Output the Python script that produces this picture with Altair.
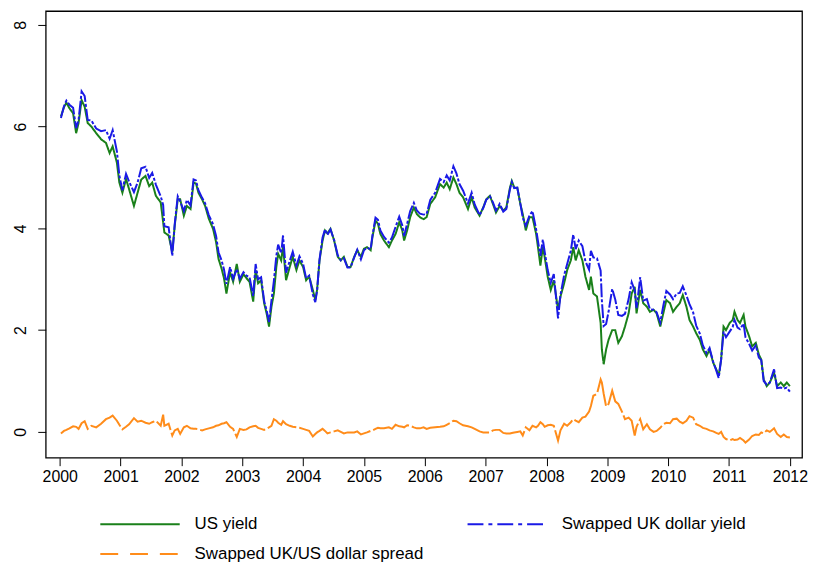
import altair as alt
import pandas as pd

# Dates as fractional years
dates = [
    2000.02, 2000.07, 2000.11, 2000.16, 2000.22, 2000.27, 2000.31, 2000.36, 2000.41, 2000.46,
    2000.52, 2000.60, 2000.68, 2000.76, 2000.82, 2000.87, 2000.94, 2000.98, 2001.03, 2001.09,
    2001.14, 2001.22, 2001.28, 2001.34, 2001.41, 2001.47, 2001.52, 2001.58, 2001.66, 2001.70,
    2001.72, 2001.79, 2001.85, 2001.89, 2001.94, 2001.98, 2002.04, 2002.09, 2002.15, 2002.20,
    2002.24, 2002.28, 2002.34, 2002.39, 2002.45, 2002.52, 2002.57, 2002.61, 2002.66, 2002.70,
    2002.74, 2002.80, 2002.85, 2002.91, 2002.96, 2003.02, 2003.07, 2003.12, 2003.18, 2003.22,
    2003.26, 2003.31, 2003.36, 2003.40, 2003.44, 2003.48, 2003.52, 2003.56, 2003.59, 2003.64,
    2003.67, 2003.72, 2003.78, 2003.83, 2003.89, 2003.94, 2004.00, 2004.05, 2004.10, 2004.16,
    2004.20, 2004.23, 2004.27, 2004.32, 2004.36, 2004.40, 2004.45, 2004.51, 2004.57, 2004.62,
    2004.67, 2004.73, 2004.78, 2004.84, 2004.89, 2004.95, 2005.00, 2005.05, 2005.11, 2005.14,
    2005.19, 2005.23, 2005.27, 2005.33, 2005.41, 2005.46, 2005.52, 2005.58, 2005.63, 2005.66,
    2005.71, 2005.76, 2005.82, 2005.87, 2005.92, 2005.98, 2006.03, 2006.09, 2006.17, 2006.25,
    2006.31, 2006.36, 2006.41, 2006.47, 2006.52, 2006.57, 2006.63, 2006.71, 2006.77, 2006.82,
    2006.90, 2006.96, 2007.01, 2007.07, 2007.12, 2007.17, 2007.23, 2007.29, 2007.34, 2007.40,
    2007.43, 2007.47, 2007.52, 2007.57, 2007.61, 2007.66, 2007.72, 2007.77, 2007.83, 2007.86,
    2007.90, 2007.94, 2007.97, 2008.02, 2008.07, 2008.12, 2008.19, 2008.23, 2008.29, 2008.34,
    2008.40, 2008.44, 2008.48, 2008.53, 2008.59, 2008.64, 2008.70, 2008.73, 2008.77, 2008.83,
    2008.89, 2008.91, 2008.94, 2008.98, 2009.02, 2009.08, 2009.13, 2009.18, 2009.24, 2009.29,
    2009.35, 2009.40, 2009.45, 2009.48, 2009.54, 2009.59, 2009.65, 2009.70, 2009.76, 2009.81,
    2009.87, 2009.92, 2009.97, 2010.03, 2010.08, 2010.14, 2010.19, 2010.24, 2010.30, 2010.35,
    2010.41, 2010.46, 2010.52, 2010.57, 2010.63, 2010.68, 2010.74, 2010.79, 2010.83, 2010.87,
    2010.91, 2010.95, 2011.01, 2011.06, 2011.09, 2011.14, 2011.18, 2011.24, 2011.27, 2011.33,
    2011.38, 2011.44, 2011.49, 2011.53, 2011.57, 2011.62, 2011.67, 2011.74, 2011.79, 2011.85,
    2011.90, 2011.95, 2012.00,
]

us_yield = [
    6.20, 6.38, 6.47, 6.36, 6.26, 5.87, 6.07, 6.52, 6.39, 6.07,
    6.00, 5.87, 5.75, 5.68, 5.48, 5.61, 5.29, 4.90, 4.70, 4.97,
    4.77, 4.44, 4.70, 4.96, 5.03, 4.83, 4.90, 4.64, 4.51, 4.12,
    3.92, 3.86, 3.53, 4.05, 4.57, 4.57, 4.25, 4.44, 4.38, 4.90,
    4.88, 4.70, 4.57, 4.44, 4.19, 3.99, 3.73, 3.40, 3.21, 3.02,
    2.72, 3.14, 2.95, 3.30, 2.95, 3.10, 3.02, 2.95, 2.56, 3.18,
    2.92, 2.98, 2.53, 2.33, 2.07, 2.46, 2.72, 3.24, 3.50, 3.37,
    3.65, 2.98, 3.24, 3.44, 3.18, 3.37, 3.24, 2.98, 3.05, 2.79,
    2.59, 2.79, 3.37, 3.76, 3.96, 3.90, 3.99, 3.76, 3.44, 3.37,
    3.44, 3.24, 3.24, 3.44, 3.57, 3.44, 3.60, 3.63, 3.57, 3.83,
    4.15, 4.09, 3.89, 3.76, 3.63, 3.76, 3.89, 4.12, 3.96, 3.76,
    3.96, 4.22, 4.41, 4.28, 4.22, 4.18, 4.22, 4.48, 4.61, 4.87,
    4.80, 4.90, 4.77, 5.00, 4.87, 4.70, 4.61, 4.38, 4.61, 4.41,
    4.25, 4.41, 4.57, 4.64, 4.48, 4.31, 4.44, 4.35, 4.41, 4.80,
    4.93, 4.80, 4.80, 4.48, 4.28, 3.96, 4.22, 4.22, 3.89, 3.63,
    3.27, 3.63, 3.44, 3.05, 2.79, 2.98, 2.40, 2.66, 2.92, 3.18,
    3.37, 3.63, 3.37, 3.57, 3.37, 3.05, 2.79, 3.05, 2.72, 2.66,
    2.14, 1.62, 1.33, 1.62, 1.81, 2.00, 2.00, 1.75, 1.88, 2.07,
    2.33, 2.72, 2.85, 2.33, 2.79, 2.53, 2.46, 2.36, 2.40, 2.33,
    2.07, 2.33, 2.59, 2.53, 2.36, 2.46, 2.53, 2.69, 2.46, 2.20,
    2.07, 1.94, 1.81, 1.62, 1.49, 1.62, 1.36, 1.23, 1.10, 1.42,
    2.07, 2.00, 2.14, 2.20, 2.36, 2.20, 2.14, 2.30, 2.07, 1.88,
    1.68, 1.75, 1.52, 1.42, 1.03, 0.90, 0.97, 1.16, 0.90, 0.97,
    0.90, 0.97, 0.90,
]

spread = [
    -0.03, 0.02, 0.04, 0.07, 0.11, 0.10, 0.06, 0.17, 0.21, 0.06,
    0.12, 0.09, 0.16, 0.25, 0.28, 0.32, 0.22, 0.14, 0.05, 0.10,
    0.15, 0.27, 0.20, 0.22, 0.18, 0.16, 0.19, 0.22, 0.12, 0.34,
    0.12, 0.16, -0.07, 0.03, 0.06, -0.04, 0.09, 0.12, 0.07, 0.06,
    0.06, 0.05, 0.03, 0.05, 0.07, 0.09, 0.12, 0.13, 0.16, 0.17,
    0.19, 0.10, 0.06, -0.10, 0.06, 0.04, 0.05, 0.09, 0.11, 0.12,
    0.08, 0.06, 0.04, 0.06, 0.09, 0.12, 0.25, 0.22, 0.18, 0.14,
    0.21, 0.15, 0.12, 0.10, 0.09, 0.08, 0.06, 0.04, 0.02, -0.09,
    -0.04, -0.01, 0.02, 0.06, 0.02, -0.03, -0.01, 0.01, 0.03, 0.00,
    -0.03, -0.01, -0.01, -0.01, 0.01, -0.05, -0.03, -0.01, 0.02, 0.03,
    0.06, 0.08, 0.07, 0.07, 0.09, 0.06, 0.14, 0.11, 0.10, 0.09,
    0.13, 0.12, 0.09, 0.07, 0.07, 0.09, 0.06, 0.08, 0.09, 0.10,
    0.11, 0.14, 0.17, 0.22, 0.21, 0.17, 0.13, 0.11, 0.09, 0.06,
    0.01, -0.01, -0.01, -0.01, 0.03, 0.04, 0.04, -0.02, -0.03, -0.03,
    -0.02, -0.01, 0.00, 0.01, -0.07, 0.09, 0.03, 0.12, 0.09, 0.12,
    0.19, 0.15, 0.10, 0.13, 0.14, 0.12, -0.17, 0.03, 0.16, 0.12,
    0.19, 0.25, 0.22, 0.19, 0.28, 0.30, 0.40, 0.51, 0.71, 0.75,
    1.03, 0.97, 0.75, 0.50, 0.55, 0.81, 0.60, 0.55, 0.40, 0.25,
    0.28, 0.22, -0.07, 0.10, 0.25, 0.05, 0.15, 0.05, 0.00, 0.02,
    0.08, 0.15, 0.18, 0.17, 0.25, 0.26, 0.20, 0.17, 0.22, 0.31,
    0.28, 0.15, 0.12, 0.08, 0.06, 0.03, 0.01, -0.02, -0.04, 0.00,
    -0.10, -0.14, -0.17, -0.14, -0.16, -0.15, -0.12, -0.17, -0.21, -0.15,
    -0.08, -0.05, -0.06, -0.01, -0.03, 0.03, 0.00, 0.07, -0.04, -0.10,
    -0.05, -0.10, -0.11,
]

series_names = ["US yield", "Swapped UK dollar yield", "Swapped UK/US dollar spread"]
series_colors = ["#1a801a", "#1a1ae6", "#ff8c1a"]
legend_dash = [[1, 0], [16, 5, 4, 5], [18, 12]]
plot_dash = [[1, 0], [14, 2, 3, 2], [40, 3]]
year_ticks = list(range(2000, 2013))
y_ticks = [0, 2, 4, 6, 8]

rows = []
for d, u, s in zip(dates, us_yield, spread):
    rows.append({"year": d, "value": u, "series": series_names[0]})
    rows.append({"year": d, "value": round(u + s, 2), "series": series_names[1]})
    rows.append({"year": d, "value": s, "series": series_names[2]})
df = pd.DataFrame(rows)

FONT = "Liberation Sans"

x_enc = alt.X(
    "year:Q",
    scale=alt.Scale(domain=[1999.77, 2012.2], nice=False, zero=False),
    axis=alt.Axis(values=year_ticks, format="d", title=None, grid=False, domain=False,
                  tickSize=8, tickColor="#000", labelFontSize=16, labelFont=FONT,
                  labelColor="#000", labelPadding=3, tickWidth=1),
)
y_enc = alt.Y(
    "value:Q",
    scale=alt.Scale(domain=[-0.507, 8.27], nice=False, zero=False),
    axis=alt.Axis(values=y_ticks, title=None, grid=False, domain=False, tickSize=8,
                  tickColor="#000", labelFontSize=16, labelFont=FONT, labelColor="#000",
                  labelAngle=270, labelAlign="center", labelBaseline="bottom",
                  labelPadding=9, tickWidth=1),
)
legend_def = alt.Legend(
    title=None, orient="none", legendX=86, legendY=508, columns=2, direction="horizontal",
    columnPadding=40, rowPadding=13, symbolType="M-5,0H5", symbolSize=256,
    symbolStrokeWidth=2, labelFontSize=17, labelFont=FONT, labelColor="#000",
    labelOffset=46, labelLimit=0, values=series_names,
)
color_enc = alt.Color(
    "series:N",
    scale=alt.Scale(domain=series_names, range=series_colors),
    legend=legend_def,
)

layers = []
for name, dash in zip(series_names, plot_dash):
    layers.append(
        alt.Chart(df)
        .transform_filter(alt.datum.series == name)
        .mark_line(strokeWidth=2, strokeDash=dash)
        .encode(x=x_enc, y=y_enc, color=color_enc)
    )

# legend carrier: no rows drawn, only supplies dashed legend symbols
legend_layer = (
    alt.Chart(df)
    .transform_filter("datum.year > 3000")
    .mark_line(strokeWidth=2)
    .encode(
        x=x_enc, y=y_enc, color=color_enc,
        strokeDash=alt.StrokeDash(
            "series:N",
            scale=alt.Scale(domain=series_names, range=legend_dash),
            legend=legend_def,
        ),
    )
)

chart = (
    alt.layer(*layers, legend_layer)
    .properties(
        width=762, height=450,
        padding={"left": 38, "top": 1, "right": 6, "bottom": 103},
        autosize=alt.AutoSizeParams(type="none"),
        background="white",
    )
    .configure_view(stroke="#000", strokeWidth=1.3)
)

chart.save("out.html", embed_options={"renderer": "svg", "actions": False})
